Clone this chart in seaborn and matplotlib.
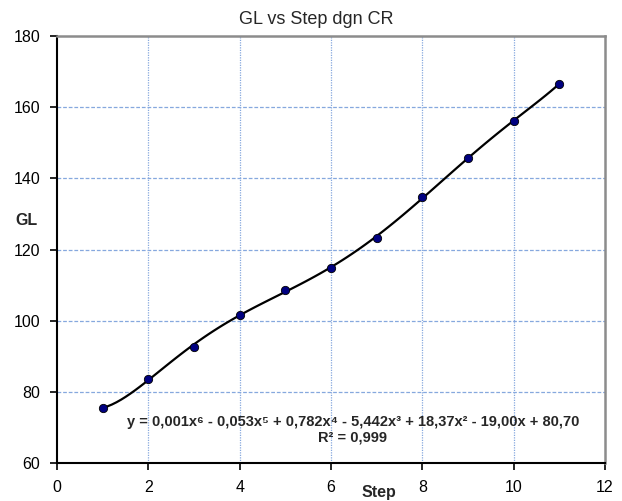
import matplotlib
matplotlib.use("Agg")
import matplotlib.pyplot as plt
import seaborn as sns
import numpy as np
import pandas as pd

steps = [1, 2, 3, 4, 5, 6, 7, 8, 9, 10, 11]
gl = [75.4, 83.7, 92.7, 101.7, 108.6, 114.8, 123.3, 134.8, 145.7, 156.1, 166.6]
x_ticks = [0, 2, 4, 6, 8, 10, 12]
y_ticks = [60, 80, 100, 120, 140, 160, 180]
title = "GL vs Step dgn CR"
eq_text = "y = 0,001x⁶ - 0,053x⁵ + 0,782x⁴ - 5,442x³ + 18,37x² - 19,00x + 80,70"
r2_text = "R² = 0,999"

sns.set_style("white")
plt.rcParams['font.family'] = ['Liberation Sans', 'DejaVu Sans']

df = pd.DataFrame({"Step": steps, "GL": gl})

fig = plt.figure(figsize=(6.22, 5.01), dpi=100)
ax = fig.add_axes([57/622, 38/501, 548/622, 427/501])

sns.regplot(data=df, x="Step", y="GL", order=6, ci=None, truncate=True, ax=ax,
            scatter=False, line_kws=dict(color="black", lw=1.6, zorder=3))
sns.scatterplot(data=df, x="Step", y="GL", ax=ax, color="#000080", edgecolor="black",
                linewidth=0.6, s=36, zorder=4)

ax.set_xlim(0, 12)
ax.set_ylim(60, 180)
ax.set_xticks(x_ticks)
ax.set_yticks(y_ticks)
ax.tick_params(axis="both", labelsize=11.5, length=5, width=1.2, direction="out",
               colors="black", pad=7)
ax.xaxis.set_ticks_position("bottom")
ax.yaxis.set_ticks_position("left")

# grid
for t in x_ticks[1:-1]:
    ax.axvline(t, color="#86a8de", lw=0.9, ls=(0, (1, 1)), zorder=1)
for t in y_ticks[1:-1]:
    ax.axhline(t, color="#86a8de", lw=0.9, ls=(0, (3, 1.5)), zorder=1)

for s in ["left", "bottom"]:
    ax.spines[s].set_color("black")
    ax.spines[s].set_linewidth(1.5)
for s in ["top", "right"]:
    ax.spines[s].set_color("#8c8c8c")
    ax.spines[s].set_linewidth(1.8)

ax.set_xlabel("Step", fontsize=11.5, fontweight="bold")
ax.set_ylabel("GL", fontsize=11.5, fontweight="bold", rotation=0)
ax.xaxis.set_label_coords(0.588, -0.051)
ax.yaxis.set_label_coords(-0.0566, 0.550)

fig.text(316/622, 1 - 19/501, title, fontsize=13, ha="center", va="center")

ax.text(6.48, 71.5, eq_text, fontsize=10.5, fontweight="bold", ha="center", va="center")
ax.text(6.48, 67.3, r2_text, fontsize=10.5, fontweight="bold", ha="center", va="center")

fig.savefig("out.png", dpi=100)
